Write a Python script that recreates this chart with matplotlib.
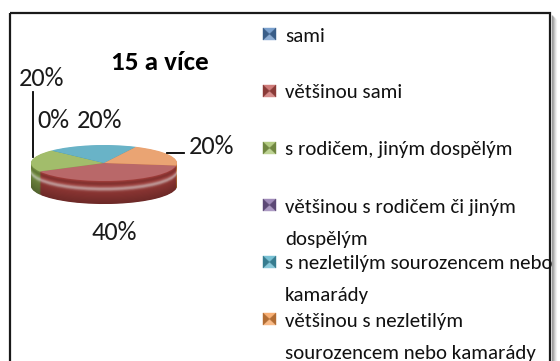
import matplotlib.pyplot as plt
import numpy as np
from matplotlib.colors import to_rgb
from matplotlib.patches import Polygon, Rectangle

W, H = 560, 361

categories = [
    "sami",
    "většinou sami",
    "s rodičem, jiným dospělým",
    "většinou s rodičem či jiným\ndospělým",
    "s nezletilým sourozencem nebo\nkamarády",
    "většinou s nezletilým\nsourozencem nebo kamarády",
]
shares = [0.0, 0.4, 0.2, 0.0, 0.2, 0.2]
title = "15 a více"

top_colors = ["#4f81bd", "#b96869", "#a2bd6b", "#8064a2", "#69b3c7", "#eaa473"]
side_colors = ["#385d8a", "#a8403d", "#7f9a48", "#5c4776", "#3f94ab", "#d9803f"]
key_colors = ["#4f81bd", "#c0504d", "#9bbb59", "#8064a2", "#4bacc6", "#f79646"]

# label anchor points in pixels (None = label not shown)
label_pos = [None, (114, 233), (42, 79), (53, 121), (100, 121), (212, 147)]

FONT = ["Carlito", "Liberation Sans", "DejaVu Sans"]


def shade(color, t):
    """t = 0 at the top rim of the side wall, 1 at its bottom."""
    c = np.array(to_rgb(color))
    glow = 0.55 * np.exp(-((t - 0.36) / 0.09) ** 2)
    dip = 0.18 * np.exp(-((t - 0.12) / 0.08) ** 2)
    c = c + (1 - c) * glow
    return tuple(np.clip(c * (1 - 0.35 * t - dip), 0, 1))


def lighten(color, f):
    c = np.array(to_rgb(color))
    return tuple(c + (1 - c) * f)


fig = plt.figure(figsize=(W / 100, H / 100), dpi=100)
fig.patch.set_facecolor("white")

# flattened pie: rx/ry in pixels, depth in ry units
cx, cy, rx, ry = 104, 163, 73, 18
depth = 1.28
ylo, yhi = -1 - depth - 0.3, 1.3
ax = fig.add_axes([(cx - rx) / W, 1 - (cy - ylo * ry) / H,
                   2 * rx / W, (yhi - ylo) * ry / H])

n = 40
for k in range(n, 0, -1):
    t = k / n
    ax.pie(shares, colors=[shade(c, t) for c in side_colors],
           startangle=-8, counterclock=False, center=(0, -depth * t),
           wedgeprops=dict(linewidth=0))
ax.pie(shares, colors=top_colors, startangle=-8, counterclock=False,
       wedgeprops=dict(linewidth=0))
ax.set_aspect("auto")
ax.set_xlim(-1, 1)
ax.set_ylim(ylo, yhi)
ax.axis("off")

# overlay in pixel coordinates for text, leader lines and chart border
ov = fig.add_axes([0, 0, 1, 1], zorder=5)
ov.set_xlim(0, W)
ov.set_ylim(H, 0)
ov.axis("off")
ov.patch.set_alpha(0)

ov.add_patch(Rectangle((10, 12.5), 540, 400, fill=False, edgecolor="#1a1a1a",
                       linewidth=1.6, clip_on=False))
for i, a in enumerate([0.35, 0.25, 0.16, 0.09, 0.04]):
    ov.plot([551.5 + i, 551.5 + i], [15 + i, H], color="black", alpha=a,
            linewidth=1, solid_capstyle="butt")

ov.text(160, 62, title, ha="center", va="center", fontsize=19.5,
        fontweight="bold", family=FONT)

for v, pos in zip(shares, label_pos):
    if pos is None:
        continue
    ov.text(pos[0], pos[1], f"{v:.0%}", ha="center", va="center",
            fontsize=19, family=FONT, color="#1a1a1a")

# leader lines
ov.plot([33, 33], [92, 157], color="black", linewidth=1.3)
ov.plot([167, 184], [153, 153], color="black", linewidth=1.3)

# key with bevelled swatches; wrapped names run 32 px per line
for i, (name, col) in enumerate(zip(categories, key_colors)):
    base = 41.5 + 57 * i
    x0, x1, y0, y1 = 263, 276, base - 13.5, base - 1.5
    xm, ym = (x0 + x1) / 2, (y0 + y1) / 2
    faces = [
        ([(x0, y0), (x1, y0), (xm, ym)], lighten(col, 0.25)),
        ([(x0, y1), (x1, y1), (xm, ym)], lighten(col, 0.35)),
        ([(x0, y0), (x0, y1), (xm, ym)], shade(col, 0.8)),
        ([(x1, y0), (x1, y1), (xm, ym)], shade(col, 0.8)),
    ]
    for pts, fc in faces:
        ov.add_patch(Polygon(pts, closed=True, facecolor=fc, edgecolor=fc,
                             linewidth=0.3))
    for j, line in enumerate(name.split("\n")):
        ov.text(285, base + 32 * j, line, ha="left", va="baseline",
                fontsize=15, family=FONT, color="#111111")

fig.savefig("out.png", dpi=100)
